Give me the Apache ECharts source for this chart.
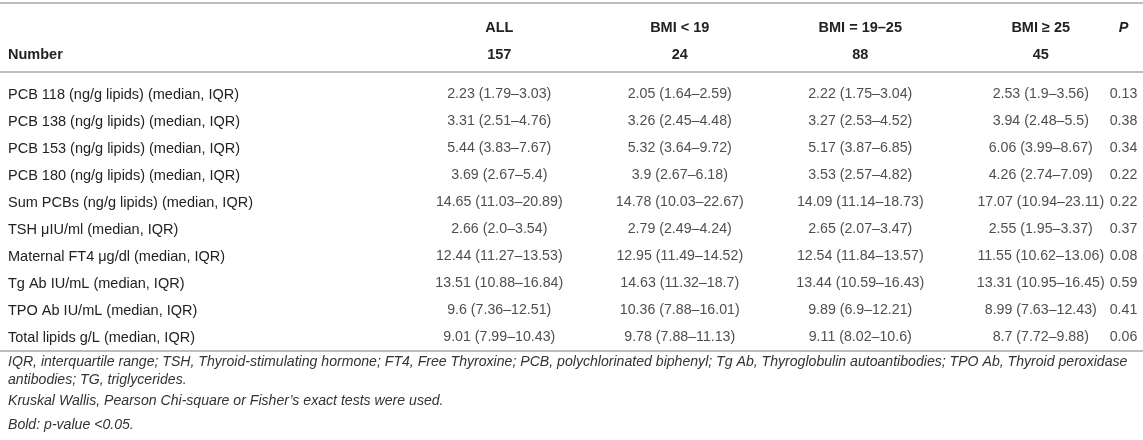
<!DOCTYPE html>
<html>
<head>
<meta charset="utf-8">
<script src="https://cdn.jsdelivr.net/npm/echarts@6/dist/echarts.min.js"></script>
<style>
html,body{margin:0;padding:0;background:#fff;}
#chart{width:1143px;height:440px;}
</style>
</head>
<body>
<div id="chart"></div>
<script>
const rowLabels = [
  'PCB 118 (ng/g lipids) (median, IQR)',
  'PCB 138 (ng/g lipids) (median, IQR)',
  'PCB 153 (ng/g lipids) (median, IQR)',
  'PCB 180 (ng/g lipids) (median, IQR)',
  'Sum PCBs (ng/g lipids) (median, IQR)',
  'TSH μIU/ml (median, IQR)',
  'Maternal FT4 μg/dl (median, IQR)',
  'Tg Ab IU/mL (median, IQR)',
  'TPO Ab IU/mL (median, IQR)',
  'Total lipids g/L (median, IQR)'
];
const groups = ['ALL', 'BMI < 19', 'BMI = 19–25', 'BMI ≥ 25'];
const groupCounts = [157, 24, 88, 45];

const medAll  = ['2.23','3.31','5.44','3.69','14.65','2.66','12.44','13.51','9.6','9.01'];
const lowAll  = ['1.79','2.51','3.83','2.67','11.03','2.0','11.27','10.88','7.36','7.99'];
const highAll = ['3.03','4.76','7.67','5.4','20.89','3.54','13.53','16.84','12.51','10.43'];

const medLt19  = ['2.05','3.26','5.32','3.9','14.78','2.79','12.95','14.63','10.36','9.78'];
const lowLt19  = ['1.64','2.45','3.64','2.67','10.03','2.49','11.49','11.32','7.88','7.88'];
const highLt19 = ['2.59','4.48','9.72','6.18','22.67','4.24','14.52','18.7','16.01','11.13'];

const med1925  = ['2.22','3.27','5.17','3.53','14.09','2.65','12.54','13.44','9.89','9.11'];
const low1925  = ['1.75','2.53','3.87','2.57','11.14','2.07','11.84','10.59','6.9','8.02'];
const high1925 = ['3.04','4.52','6.85','4.82','18.73','3.47','13.57','16.43','12.21','10.6'];

const medGe25  = ['2.53','3.94','6.06','4.26','17.07','2.55','11.55','13.31','8.99','8.7'];
const lowGe25  = ['1.9','2.48','3.99','2.74','10.94','1.95','10.62','10.95','7.63','7.72'];
const highGe25 = ['3.56','5.5','8.67','7.09','23.11','3.37','13.06','16.45','12.43','9.88'];

const pValues = [0.13, 0.38, 0.34, 0.22, 0.22, 0.37, 0.08, 0.59, 0.41, 0.06];

const footnotes = [
  'IQR, interquartile range; TSH, Thyroid-stimulating hormone; FT4, Free Thyroxine; PCB, polychlorinated biphenyl; Tg Ab, Thyroglobulin autoantibodies; TPO Ab, Thyroid peroxidase',
  'antibodies; TG, triglycerides.',
  'Kruskal Wallis, Pearson Chi-square or Fisher’s exact tests were used.',
  'Bold: p-value <0.05.'
];

// ---- build ----
const FONT = '"Liberation Sans", Arial, Helvetica, sans-serif';
const TXT = '#222';
const FS = 14.5;
const CFS = 14.2;
const groupStats = [
  [medAll, lowAll, highAll],
  [medLt19, lowLt19, highLt19],
  [med1925, low1925, high1925],
  [medGe25, lowGe25, highGe25]
];
const cellData = [];
groupStats.forEach((g, ci) => {
  g[0].forEach((m, ri) => {
    cellData.push([ci, ri, m + ' (' + g[1][ri] + '–' + g[2][ri] + ')']);
  });
});
const pData = pValues.map((p, ri) => [0, ri, p.toFixed(2)]);

const GRID_TOP = 81, GRID_H = 270;
const chart = echarts.init(document.getElementById('chart'), null, {renderer: 'canvas'});
const hidden = {axisLine: {show: false}, axisTick: {show: false}, splitLine: {show: false}};

chart.setOption({
  animation: false,
  backgroundColor: '#fff',
  textStyle: {fontFamily: FONT},
  grid: [
    {left: 409, width: 722, top: GRID_TOP, height: GRID_H, containLabel: false},
    {left: 1104, width: 40, top: GRID_TOP, height: GRID_H, containLabel: false}
  ],
  xAxis: [
    Object.assign({
      type: 'category', gridIndex: 0, position: 'top', data: groups,
      axisLabel: {
        margin: 12.5, interval: 0,
        formatter: (v, i) => '{h|' + v + '}\n{n|' + groupCounts[i] + '}',
        rich: {
          h: {fontFamily: FONT, fontWeight: 'bold', fontSize: FS, color: TXT, lineHeight: 27},
          n: {fontFamily: FONT, fontWeight: 'bold', fontSize: FS, color: TXT, lineHeight: 27}
        }
      }
    }, hidden),
    Object.assign({
      type: 'category', gridIndex: 1, position: 'top', data: ['P'],
      axisLabel: {
        margin: 12.5, interval: 0,
        formatter: v => '{p|' + v + '}\n{n| }',
        rich: {
          p: {fontFamily: FONT, fontWeight: 'bold', fontStyle: 'italic', fontSize: FS, color: TXT, lineHeight: 27},
          n: {fontFamily: FONT, fontSize: FS, lineHeight: 27}
        }
      }
    }, hidden)
  ],
  yAxis: [
    Object.assign({
      type: 'category', gridIndex: 0, inverse: true, data: rowLabels,
      axisLabel: {align: 'left', margin: 401, interval: 0, fontFamily: FONT, fontSize: FS, color: TXT}
    }, hidden),
    Object.assign({
      type: 'category', gridIndex: 1, inverse: true, data: rowLabels,
      axisLabel: {show: false}
    }, hidden)
  ],
  series: [
    {
      type: 'scatter', xAxisIndex: 0, yAxisIndex: 0, data: cellData,
      symbolSize: 1, itemStyle: {color: 'rgba(0,0,0,0)'}, silent: true,
      label: {show: true, position: 'inside', formatter: p => p.value[2],
        fontFamily: FONT, fontSize: CFS, color: TXT}
    },
    {
      type: 'scatter', xAxisIndex: 1, yAxisIndex: 1, data: pData,
      symbolSize: 1, itemStyle: {color: 'rgba(0,0,0,0)'}, silent: true,
      label: {show: true, position: 'inside', formatter: p => p.value[2],
        fontFamily: FONT, fontSize: CFS, color: TXT}
    }
  ],
  graphic: [
    {type: 'line', shape: {x1: 0, y1: 3, x2: 1143, y2: 3}, style: {stroke: '#a8a8a8', lineWidth: 1.5}},
    {type: 'line', shape: {x1: 0, y1: 72, x2: 1143, y2: 72}, style: {stroke: '#a8a8a8', lineWidth: 1.5}},
    {type: 'line', shape: {x1: 0, y1: 351, x2: 1143, y2: 351}, style: {stroke: '#a8a8a8', lineWidth: 1.5}},
    {type: 'text', left: 8, top: 47, style: {text: 'Number', font: 'bold ' + FS + 'px ' + FONT, fill: TXT}},
    {type: 'text', left: 8, top: 355, style: {text: footnotes[0], font: 'italic 14.1px ' + FONT, fill: '#333'}},
    {type: 'text', left: 8, top: 373, style: {text: footnotes[1], font: 'italic 14.1px ' + FONT, fill: '#333'}},
    {type: 'text', left: 8, top: 394, style: {text: footnotes[2], font: 'italic 14.1px ' + FONT, fill: '#333'}},
    {type: 'text', left: 8, top: 418, style: {text: footnotes[3], font: 'italic 14.1px ' + FONT, fill: '#333'}}
  ]
});
</script>
</body>
</html>
